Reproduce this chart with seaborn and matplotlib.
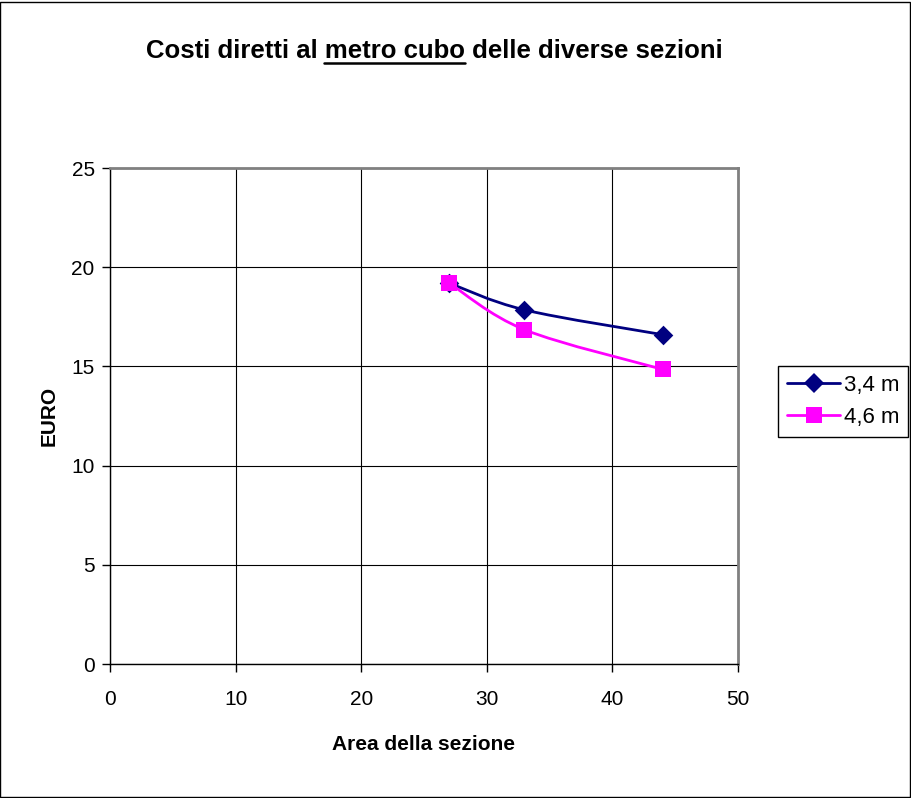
import matplotlib
matplotlib.use("Agg")
import matplotlib.pyplot as plt
from matplotlib.path import Path
from matplotlib.patches import PathPatch, Rectangle
from matplotlib.lines import Line2D
import numpy as np
import pandas as pd
import seaborn as sns

# Data
series_names = ["3,4 m", "4,6 m"]
area = [27, 33, 44]
euro_34 = [19.2, 17.85, 16.6]
euro_46 = [19.2, 16.85, 14.85]
x_ticks = [0, 10, 20, 30, 40, 50]
y_ticks = [0, 5, 10, 15, 20, 25]

colors = {"3,4 m": "#000080", "4,6 m": "#FF00FF"}
markers = {"3,4 m": "D", "4,6 m": "s"}
marker_area = {"3,4 m": 100, "4,6 m": 130}

df = pd.DataFrame({
    "area": area * 2,
    "euro": euro_34 + euro_46,
    "serie": [series_names[0]] * len(area) + [series_names[1]] * len(area),
})

sns.set_theme(style="white")
plt.rcParams["font.family"] = ["Liberation Sans", "DejaVu Sans"]
plt.rcParams["text.color"] = "black"
plt.rcParams["axes.labelcolor"] = "black"
plt.rcParams["xtick.color"] = "black"
plt.rcParams["ytick.color"] = "black"

fig = plt.figure(figsize=(9.12, 7.98), dpi=100)
ax = fig.add_axes([110 / 912, 1 - 664 / 798, 628 / 912, 496 / 798])


def smooth_path(xs, ys):
    """Cubic Bezier path through the points (Catmull-Rom control points)."""
    pts = np.column_stack([xs, ys]).astype(float)
    n = len(pts)
    verts = [pts[0]]
    codes = [Path.MOVETO]
    for i in range(n - 1):
        p_prev = pts[i - 1] if i > 0 else pts[i]
        p_next2 = pts[i + 2] if i + 2 < n else pts[i + 1]
        c1 = pts[i] + (pts[i + 1] - p_prev) / 6.0
        c2 = pts[i + 1] - (p_next2 - pts[i]) / 6.0
        verts += [c1, c2, pts[i + 1]]
        codes += [Path.CURVE4] * 3
    return Path(verts, codes)


for k, name in enumerate(series_names):
    sub = df[df["serie"] == name]
    patch = PathPatch(smooth_path(sub["area"].values, sub["euro"].values),
                      facecolor="none", edgecolor=colors[name], lw=2.0,
                      zorder=3 + 2 * k, transform=ax.transData)
    ax.add_patch(patch)
    sns.scatterplot(data=sub, x="area", y="euro", color=colors[name],
                    marker=markers[name], s=marker_area[name], linewidth=0,
                    legend=False, zorder=4 + 2 * k, ax=ax)

ax.set_xlim(0, 50)
ax.set_ylim(0, 25)
ax.set_xticks(x_ticks)
ax.set_yticks(y_ticks)
ax.grid(True, color="black", lw=0.8)
ax.set_axisbelow(True)
ax.tick_params(axis="both", direction="out", width=1, color="black",
               labelcolor="black", labelsize=15, bottom=True, left=True)
ax.tick_params(axis="x", length=5.5, pad=13)
ax.tick_params(axis="y", length=6, pad=5)
for side in ["left", "bottom"]:
    ax.spines[side].set_color("black")
    ax.spines[side].set_linewidth(1.0)
for side in ["top", "right"]:
    ax.spines[side].set_color("#808080")
    ax.spines[side].set_linewidth(2.0)
ax.set_xlabel("Area della sezione", fontsize=15, fontweight="bold",
              labelpad=19, color="black")
ax.set_ylabel("EURO", fontsize=15, fontweight="bold", labelpad=9, color="black")

# Legend
handles = [Line2D([0], [0], color=colors[n], lw=2.0, marker=markers[n],
                  markersize=11 if n == "4,6 m" else 10, markeredgewidth=0)
           for n in series_names]
leg = fig.legend(handles, series_names, loc="upper left",
                 bbox_to_anchor=(778 / 912, 1 - 366 / 798), fontsize=16,
                 frameon=True, fancybox=False, framealpha=1, edgecolor="black",
                 handlelength=2.4, handletextpad=0.15, borderpad=0.4,
                 labelspacing=0.5, borderaxespad=0)
leg.get_frame().set_linewidth(1.0)
for txt in leg.get_texts():
    txt.set_color("black")

# Title with underlined phrase
title_full = "Costi diretti al metro cubo delle diverse sezioni"
title_head = "Costi diretti al metro cubo"
title_ul = "metro cubo"
tprops = dict(fontsize=18.5, fontweight="bold", color="black")
title_y = 1 - 58 / 798
t = fig.text(434 / 912, title_y, title_full, ha="center", va="baseline", **tprops)
renderer = fig.canvas.get_renderer()


def text_width(s):
    tmp = fig.text(0, 0, s, **tprops)
    w = tmp.get_window_extent(renderer).width
    tmp.remove()
    return w


bb = t.get_window_extent(renderer)
x_end = bb.x0 + text_width(title_head)
x_start = x_end - text_width(title_ul)
y_line = title_y * fig.bbox.height - 5
fig.add_artist(Line2D([x_start / fig.bbox.width, x_end / fig.bbox.width],
                      [y_line / fig.bbox.height] * 2,
                      transform=fig.transFigure, color="black", lw=1.8))

# Outer frame
fig.add_artist(Rectangle((0.5 / 912, 1.5 / 798), 910 / 912, 795 / 798,
                         transform=fig.transFigure, fill=False,
                         edgecolor="black", lw=1.0))

fig.savefig("out.png", dpi=100, facecolor="white")
